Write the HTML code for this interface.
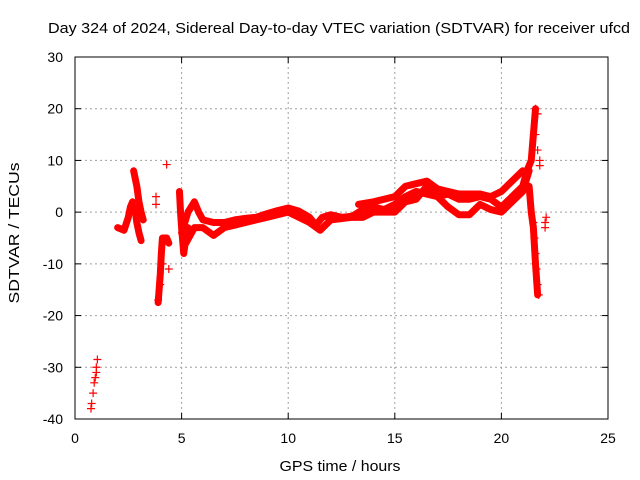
<!DOCTYPE html>
<html><head><meta charset="utf-8"><style>
body{margin:0;background:#fff}
svg{display:block;font-family:"Liberation Sans",sans-serif}
</style></head><body>
<svg id="c" width="640" height="480">
<rect width="640" height="480" fill="#fff"/>
<text x="339" y="33" font-size="15" text-anchor="middle" textLength="582" lengthAdjust="spacingAndGlyphs">Day 324 of 2024, Sidereal Day-to-day VTEC variation (SDTVAR) for receiver ufcd</text>
<text x="340" y="471" font-size="15" text-anchor="middle" textLength="121" lengthAdjust="spacingAndGlyphs">GPS time / hours</text>
<text transform="translate(19,233) rotate(-90)" font-size="15" text-anchor="middle" textLength="141" lengthAdjust="spacingAndGlyphs">SDTVAR / TECUs</text>
<g id="grid"></g><g id="marks"></g>
<rect x="75" y="57" width="533" height="362" fill="none" stroke="#000" stroke-width="1"/>
</svg>
<script>
const xTicks=[0,5,10,15,20,25];
const yTicks=[30,20,10,0,-10,-20,-30,-40];
const trace1=[[5.0,-4],[5.3,0],[5.6,2],[5.8,0],[6.0,-1.5],[6.5,-2],[7,-2],[7.5,-1.5],[8,-1.2],[8.5,-1],[9,-0.3],[9.5,0.3],[10,0.8],[10.5,0.2],[11,-1],[11.3,-2.5],[11.6,-1],[12,-0.5],[12.5,-1],[13,-0.8],[13.5,0.5],[14,1],[14.5,0.5],[15,1.5],[15.5,3],[16,4],[16.5,3.5],[17,3],[17.5,3.5],[18,2.5],[18.5,2.5],[19,3],[19.5,2.5],[20,1],[20.5,3],[21,5],[21.2,8]];
const trace2=[[5.2,-6],[5.6,-3],[6.0,-3],[6.5,-4.5],[7,-3],[7.5,-2.5],[8,-2],[9,-1],[10,0],[11,-2],[11.5,-3.5],[12,-1.5],[13,-1],[13.5,-1],[14,0],[15,0],[15.5,2],[16,2.5],[16.5,5],[17,3],[17.5,1],[18,-0.5],[18.5,-0.5],[19,1.5],[19.5,0.5],[20,0],[20.5,2],[21,4],[21.3,8]];
const trace3=[[13.3,1.5],[14,2],[15,3],[15.5,5],[16,5.5],[16.5,6],[17,4.5],[18,3.5],[19,3.5],[19.5,3],[20,4],[20.5,6],[21,8]];
const trace4=[[2.0,-3],[2.3,-3.5],[2.5,-1],[2.6,1],[2.7,2]];
const trace5=[[2.75,8],[2.9,5],[3.0,2],[3.1,0],[3.2,-1.5]];
const trace6=[[2.8,1],[2.9,-2],[3.0,-4],[3.1,-5.5]];
const trace7=[[3.9,-17.5],[4.0,-12],[4.05,-8],[4.1,-5],[4.3,-5],[4.4,-6]];
const trace8=[[4.9,4],[4.95,0],[5.0,-3],[5.1,-8],[5.2,-5],[5.3,-3]];
const trace9=[[21.2,8],[21.4,10],[21.5,15],[21.6,20]];
const trace10=[[21.3,5],[21.4,0],[21.5,-3],[21.6,-10],[21.7,-16]];
const traces=[trace1,trace2,trace3,trace4,trace5,trace6,trace7,trace8,trace9,trace10];
const markHours=[0.75,0.78,0.85,0.9,0.95,1.0,1.0,1.05,4.3,3.8,3.8,4.4,22.1,22.05,22.05,21.6,21.7,21.6,21.7,21.8,21.8,21.5,21.55,21.6,21.65,21.7,21.75,3.9,4.0,4.1];
const markValues=[-38,-37,-35,-33,-32,-31,-30,-28.5,9.2,3,1.5,-11,-1,-2,-3,20,19,15,12,10,9,-2,-5,-8,-11,-14,-16,-17,-14,-10];
const X=h=>75+h*533/25, Y=v=>57+(30-v)*362/70;
const NS="http://www.w3.org/2000/svg";
const g=document.getElementById('grid'), m=document.getElementById('marks');
function mk(t,a,p){const e=document.createElementNS(NS,t);for(const k in a)e.setAttribute(k,a[k]);p.appendChild(e);return e;}
xTicks.forEach(t=>{
 const x=X(t);
 if(t>0&&t<25){const l=mk('line',{x1:x,x2:x,y1:57,y2:419,stroke:'#a0a0a0','stroke-dasharray':'2,3'},g);
 
 }
 mk('line',{x1:x,x2:x,y1:419,y2:413,stroke:'#000'},g);
 mk('line',{x1:x,x2:x,y1:57,y2:63,stroke:'#000'},g);
 const tx=mk('text',{x:x,y:443,'font-size':14,'text-anchor':'middle'},g);tx.textContent=t;
 
 
});
yTicks.forEach(t=>{
 const y=Y(t);
 if(t<30&&t>-40){const l=mk('line',{x1:75,x2:608,y1:y,y2:y,stroke:'#a0a0a0','stroke-dasharray':'2,3'},g);
 
 }
 mk('line',{x1:75,x2:81,y1:y,y2:y,stroke:'#000'},g);
 mk('line',{x1:608,x2:602,y1:y,y2:y,stroke:'#000'},g);
 const tx=mk('text',{x:63,y:y+5,'font-size':14,'text-anchor':'end'},g);tx.textContent=t;
 
 
});
traces.forEach(tr=>{
 const p=mk('polyline',{points:tr.map(d=>X(d[0])+','+Y(d[1])).join(' '),fill:'none',stroke:'#f00','stroke-width':7,'stroke-linejoin':'round','stroke-linecap':'round'},m);
 
 
});
markHours.forEach((h,i)=>{
 const x=X(h),y=Y(markValues[i]);
 const p=mk('path',{d:`M${x-4},${y}H${x+4}M${x},${y-4}V${y+4}`,stroke:'#f00','stroke-width':1.2},m);
 
 
});
</script>
</body></html>
